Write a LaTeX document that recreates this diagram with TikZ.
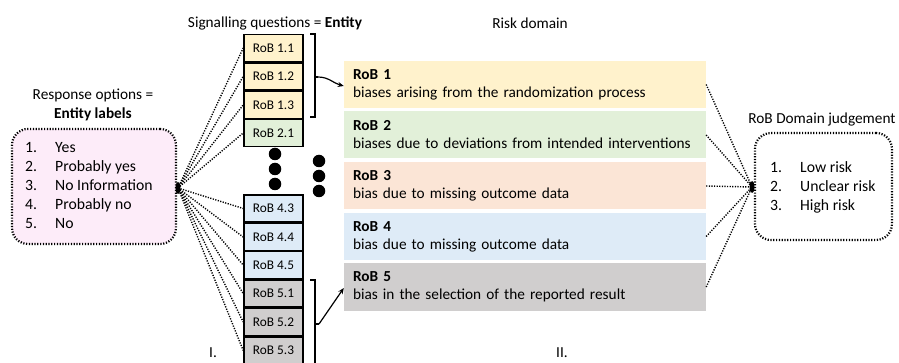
\documentclass[tikz,border=0pt]{standalone}
\usepackage{fontspec}
\setmainfont{Carlito}
\usetikzlibrary{arrows.meta,shapes.geometric}
\definecolor{cyel}{HTML}{FFF2CC}
\definecolor{cgrn}{HTML}{E2F0D9}
\definecolor{corg}{HTML}{FBE5D6}
\definecolor{cblu}{HTML}{DEEBF7}
\definecolor{cgry}{HTML}{D0CECE}
\definecolor{cpnk}{HTML}{FDECF9}
\newcommand\fbig{\fontsize{15.3}{19}\selectfont}
\newcommand\flist{\fontsize{15.7}{19}\selectfont}
\newcommand\fsml{\fontsize{13.3}{16}\selectfont}
\tikzset{
  sq/.style={draw=black, line width=1.6pt, minimum width=59pt, minimum height=27pt, inner sep=0pt, font=\fsml},
  dom/.style={minimum width=362pt, minimum height=47pt, inner sep=0pt, text width=344pt, align=left, font=\fontsize{15.3}{18}\selectfont},
  optbox/.style={draw=black, line width=2.2pt, dash pattern=on 1.2pt off 1.6pt, rounded corners=16pt, inner sep=0pt},
  dotline/.style={line width=1.4pt, dash pattern=on 1.2pt off 1.4pt},
  junc/.style={ellipse, fill=black, minimum width=5pt, minimum height=12pt, inner sep=0pt},
  bdot/.style={circle, fill=black, minimum size=12.5pt, inner sep=0pt},
  lbl/.style={font=\fbig, inner sep=0pt},
  brk/.style={line width=1.2pt},
  arr/.style={line width=1.2pt, -{Stealth[length=6pt,width=5pt]}}
}
\begin{document}
\begin{tikzpicture}[x=1pt,y=-1pt]
\path[use as bounding box] (0,0) rectangle (899,363);

% titles
\node[lbl] (t1) at (93,95) {Response options =};
\node[lbl] (t2) at (93,114) {\textbf{Entity labels}};
\node[lbl] (t3) at (275,23) {Signalling questions = \textbf{Entity}};
\node[lbl] (t4) at (530,23) {Risk domain};
\node[lbl] (t5) at (822,120) {RoB Domain judgement};
\node[lbl] (r1) at (213,353) {I.};
\node[lbl] (r2) at (562,353) {II.};

% response options box
\node[optbox, fill=cpnk, minimum width=164pt, minimum height=115pt] (resp) at (94,186.5) {};
\node[lbl, anchor=west] (resptext) at (25,187) {\flist\begin{tabular}{@{}p{30pt}@{}l@{}}1. & Yes\\ 2. & Probably yes\\ 3. & No Information\\ 4. & Probably no\\ 5. & No\end{tabular}};

% judgement box
\node[optbox, fill=white, minimum width=137pt, minimum height=107pt] (judg) at (823.5,186.5) {};
\node[lbl, anchor=west] (judgtext) at (770,187.5) {\flist\begin{tabular}{@{}p{30pt}@{}l@{}}1. & Low risk\\ 2. & Unclear risk\\ 3. & High risk\end{tabular}};

% signalling questions
\node[sq, fill=cyel] (q11) at (273.5,48) {RoB 1.1};
\node[sq, fill=cyel] (q12) at (273.5,76.5) {RoB 1.2};
\node[sq, fill=cyel] (q13) at (273.5,105) {RoB 1.3};
\node[sq, fill=cgrn] (q21) at (273.5,133) {RoB 2.1};
\node[sq, fill=cblu] (q43) at (273.5,208.5) {RoB 4.3};
\node[sq, fill=cblu] (q44) at (273.5,237) {RoB 4.4};
\node[sq, fill=cblu] (q45) at (273.5,265) {RoB 4.5};
\node[sq, fill=cgry] (q51) at (273.5,293.5) {RoB 5.1};
\node[sq, fill=cgry] (q52) at (273.5,322) {RoB 5.2};
\node[sq, fill=cgry] (q53) at (273.5,350.5) {RoB 5.3};

% ellipsis dots
\node[bdot] (e1) at (275,154) {};
\node[bdot] (e2) at (275,169) {};
\node[bdot] (e3) at (275,184) {};
\node[bdot] (e4) at (319,161) {};
\node[bdot] (e5) at (319,176) {};
\node[bdot] (e6) at (319,191) {};

% risk domains
\node[dom, fill=cyel] (d1) at (525,84.5) {\textbf{RoB 1}\\biases arising from the randomization process};
\node[dom, fill=cgrn] (d2) at (525,135) {\textbf{RoB 2}\\biases due to deviations from intended interventions};
\node[dom, fill=corg] (d3) at (525,186) {\textbf{RoB 3}\\bias due to missing outcome data};
\node[dom, fill=cblu] (d4) at (525,236.5) {\textbf{RoB 4}\\bias due to missing outcome data};
\node[dom, fill=cgry] (d5) at (525,287) {\textbf{RoB 5}\\bias in the selection of the reported result};

% junctions
\node[junc] (jl) at (178,188) {};
\node[junc] (jr) at (752,187) {};

% dotted connectors
\foreach \n in {q11,q12,q13,q21,q43,q44,q45,q51,q52,q53}
  \draw[dotline] (jl.center) -- (\n.west);
\foreach \n in {d1,d2,d3,d4,d5}
  \draw[dotline] (\n.east) -- (jr.center);

% brackets
\draw[brk] (310,34) -- (315,34) -- (315,117) -- (310,117);
\draw[brk] (310,280) -- (315,280) -- (315,365);
\coordinate (b1) at (315,77);
\coordinate (b5) at (315,324);
\draw[brk] (b1) -- (318,77);
\draw[brk] (b5) -- (319,324);
\draw[arr] (318,77) to[out=0,in=165] (d1.west |- 0,86);
\draw[arr] (319,324) -- (d5.west |- 0,288);
\end{tikzpicture}
\end{document}
